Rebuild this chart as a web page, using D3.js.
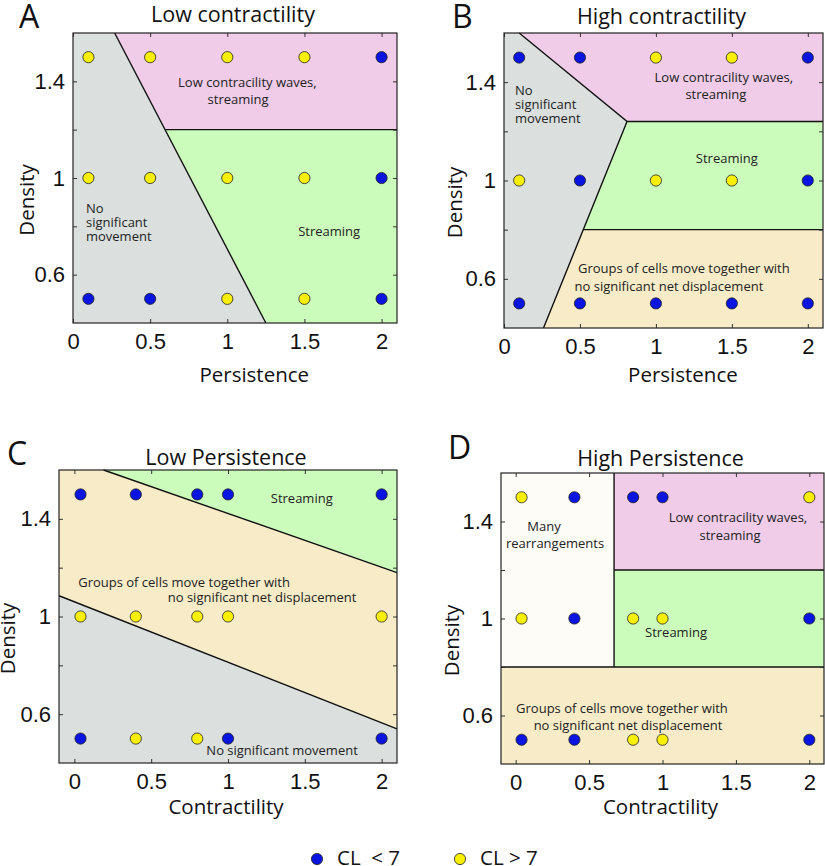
<!DOCTYPE html>
<meta charset="utf-8">
<style>
body { margin: 0; background: #fff; }
svg { display: block; }
.region-label { font-family: "Open Sans", sans-serif; font-size: 13px; fill: #222; }
.title { font-family: "Open Sans", sans-serif; font-size: 21.5px; fill: #111; }
.letter { font-family: "Open Sans", sans-serif; font-size: 32px; fill: #111; }
.axis-label { font-family: "Open Sans", sans-serif; font-size: 20.5px; fill: #111; }
.tick text { font-family: "Liberation Sans", Arial, sans-serif; font-size: 22px; fill: #111; }
.tick line { stroke: #333; }
</style>
<body>
<div id="chart"></div>
<script src="https://cdn.jsdelivr.net/npm/d3@7/dist/d3.min.js"></script>
<script>

// ---- data ----
var densityLevels = [1.5, 1.0, 0.5];
var persistenceLevels = [0.1, 0.5, 1, 1.5, 2];
var contractilityLevels = [0.04, 0.4, 0.8, 1, 2];

// "lo" = CL < 7 (blue), "hi" = CL > 7 (yellow); rows follow densityLevels
var clA = [["hi","hi","hi","hi","lo"],
           ["hi","hi","hi","hi","lo"],
           ["lo","lo","hi","hi","lo"]];
var clB = [["lo","lo","hi","hi","lo"],
           ["hi","lo","hi","hi","lo"],
           ["lo","lo","lo","lo","lo"]];
var clC = [["lo","lo","lo","lo","lo"],
           ["hi","hi","hi","hi","hi"],
           ["lo","hi","hi","lo","lo"]];
var clD = [["hi","lo","lo","lo","hi"],
           ["hi","lo","hi","hi","lo"],
           ["lo","lo","hi","hi","lo"]];

var xTicks = [0, 0.5, 1, 1.5, 2];
var yTicks = [0.6, 0.8, 1, 1.2, 1.4];
var yLabelled = [0.6, 1, 1.4];

// phase regions (polygons in data units) and boundary lines
var regionsA = [
  {phase: "none",   pts: [[0,1.6],[0.27,1.6],[1.25,0.4],[0,0.4]]},
  {phase: "waves",  pts: [[0.27,1.6],[2.1,1.6],[2.1,1.2],[0.6,1.2]]},
  {phase: "stream", pts: [[0.6,1.2],[2.1,1.2],[2.1,0.4],[1.25,0.4]]}
];
var linesA = [[[0.27,1.6],[1.25,0.4]], [[0.6,1.2],[2.1,1.2]]];

var regionsB = [
  {phase: "none",   pts: [[0,1.6],[0.1,1.6],[0.81,1.24],[0.26,0.4],[0,0.4]]},
  {phase: "waves",  pts: [[0.1,1.6],[2.1,1.6],[2.1,1.24],[0.81,1.24]]},
  {phase: "stream", pts: [[0.81,1.24],[2.1,1.24],[2.1,0.8],[0.52,0.8]]},
  {phase: "groups", pts: [[0.52,0.8],[2.1,0.8],[2.1,0.4],[0.26,0.4]]}
];
var linesB = [[[0.1,1.6],[0.81,1.24],[0.26,0.4]], [[0.81,1.24],[2.1,1.24]], [[0.52,0.8],[2.1,0.8]]];

var regionsC = [
  {phase: "stream", pts: [[0.19,1.6],[2.1,1.6],[2.1,1.18]]},
  {phase: "groups", pts: [[-0.1,1.6],[0.19,1.6],[2.1,1.18],[2.1,0.54],[-0.1,1.085]]},
  {phase: "none",   pts: [[-0.1,1.085],[2.1,0.54],[2.1,0.4],[-0.1,0.4]]}
];
var linesC = [[[0.19,1.6],[2.1,1.18]], [[-0.1,1.085],[2.1,0.54]]];

var regionsD = [
  {phase: "rearr",  pts: [[-0.1,1.6],[0.67,1.6],[0.67,0.8],[-0.1,0.8]]},
  {phase: "waves",  pts: [[0.67,1.6],[2.1,1.6],[2.1,1.2],[0.67,1.2]]},
  {phase: "stream", pts: [[0.67,1.2],[2.1,1.2],[2.1,0.8],[0.67,0.8]]},
  {phase: "groups", pts: [[-0.1,0.8],[2.1,0.8],[2.1,0.4],[-0.1,0.4]]}
];
var linesD = [[[0.67,1.6],[0.67,0.8]], [[0.67,1.2],[2.1,1.2]], [[-0.1,0.8],[2.1,0.8]]];

// ---- styles ----
var phaseColor = {
  none: "#dbe0df", waves: "#f0cce8", stream: "#ccfcbc",
  groups: "#f8ecc8", rearr: "#fefcf6"
};
var clColor = {lo: "#0a14e0", hi: "#f8f000"};

// ---- layout ----
var panels = [
  {letter: "A", title: "Low contractility", xlab: "Persistence",
   box: [73, 33, 397, 323], xDomain: [0, 2.1], xs: persistenceLevels, cl: clA,
   regions: regionsA, lines: linesA, letterPos: [19, 28], titleY: 22, xlabY: 382, ylabX: 27,
   labels: [
     {x: 1.13, y: 1.397, a: "middle", t: "Low contracility waves,"},
     {x: 1.07, y: 1.327, a: "middle", t: "streaming"},
     {x: 0.084, y: 0.876, a: "start", t: "No"},
     {x: 0.084, y: 0.818, a: "start", t: "significant"},
     {x: 0.084, y: 0.76, a: "start", t: "movement"},
     {x: 1.66, y: 0.78, a: "middle", t: "Streaming"}
   ]},
  {letter: "B", title: "High contractility", xlab: "Persistence",
   box: [504, 33, 823, 328], xDomain: [0, 2.1], xs: persistenceLevels, cl: clB,
   regions: regionsB, lines: linesB, letterPos: [452, 28], titleY: 24, xlabY: 382, ylabX: 455,
   labels: [
     {x: 0.072, y: 1.368, a: "start", t: "No"},
     {x: 0.072, y: 1.311, a: "start", t: "significant"},
     {x: 0.072, y: 1.254, a: "start", t: "movement"},
     {x: 1.447, y: 1.421, a: "middle", t: "Low contracility waves,"},
     {x: 1.395, y: 1.352, a: "middle", t: "streaming"},
     {x: 1.467, y: 1.088, a: "middle", t: "Streaming"},
     {x: 1.184, y: 0.641, a: "middle", t: "Groups of cells move together with"},
     {x: 1.086, y: 0.567, a: "middle", t: "no significant net displacement"}
   ]},
  {letter: "C", title: "Low Persistence", xlab: "Contractility",
   box: [59, 470, 397, 763], xDomain: [-0.1, 2.1], xs: contractilityLevels, cl: clC,
   regions: regionsC, lines: linesC, letterPos: [7, 465], titleY: 465, xlabY: 814, ylabX: 8,
   labels: [
     {x: 1.48, y: 1.485, a: "middle", t: "Streaming"},
     {x: 0.714, y: 1.141, a: "middle", t: "Groups of cells move together with"},
     {x: 1.222, y: 1.08, a: "middle", t: "no significant net displacement"},
     {x: 1.352, y: 0.452, a: "middle", t: "No significant movement"}
   ]},
  {letter: "D", title: "High Persistence", xlab: "Contractility",
   box: [501, 473, 824, 764], xDomain: [-0.1, 2.1], xs: contractilityLevels, cl: clD,
   regions: regionsD, lines: linesD, letterPos: [448, 459], titleY: 466, xlabY: 814, ylabX: 452,
   labels: [
     {x: 0.193, y: 1.381, a: "middle", t: "Many"},
     {x: 0.268, y: 1.31, a: "middle", t: "rearrangements"},
     {x: 1.514, y: 1.418, a: "middle", t: "Low contracility waves,"},
     {x: 1.46, y: 1.343, a: "middle", t: "streaming"},
     {x: 1.092, y: 0.942, a: "middle", t: "Streaming"},
     {x: 0.724, y: 0.628, a: "middle", t: "Groups of cells move together with"},
     {x: 0.765, y: 0.557, a: "middle", t: "no significant net displacement"}
   ]}
];

var width = 825, height = 866;

var svg = d3.select("#chart")
  .append("svg")
    .attr("width", width)
    .attr("height", height);

panels.forEach(function(p) {
  var x0 = p.box[0], y0 = p.box[1], x1 = p.box[2], y1 = p.box[3];

  var x = d3.scaleLinear().domain(p.xDomain).range([x0, x1]);
  var y = d3.scaleLinear().domain([0.4, 1.6]).range([y1, y0]);

  var g = svg.append("g").attr("class", "panel");

  var line = d3.line()
    .x(function(d) { return x(d[0]); })
    .y(function(d) { return y(d[1]); });

  // regions
  g.selectAll("path.region")
    .data(p.regions)
    .enter().append("path")
      .attr("class", "region")
      .attr("d", function(d) { return line(d.pts) + "Z"; })
      .attr("fill", function(d) { return phaseColor[d.phase]; });

  // boundaries
  g.selectAll("path.bound")
    .data(p.lines)
    .enter().append("path")
      .attr("class", "bound")
      .attr("d", line)
      .attr("fill", "none")
      .attr("stroke", "#111")
      .attr("stroke-width", 1.4);

  // axes, ticks pointing inward on all four sides
  var fmtY = function(v) { return yLabelled.indexOf(v) >= 0 ? d3.format("~g")(v) : ""; };

  g.append("g")
    .attr("transform", "translate(0," + y1 + ")")
    .call(d3.axisBottom(x).tickValues(xTicks).tickSize(-4).tickPadding(10).tickFormat(d3.format("~g")));
  g.append("g")
    .attr("transform", "translate(0," + y0 + ")")
    .call(d3.axisTop(x).tickValues(xTicks).tickSize(-4).tickFormat(""));
  g.append("g")
    .attr("transform", "translate(" + x0 + ",0)")
    .call(d3.axisLeft(y).tickValues(yTicks).tickSize(-4).tickPadding(8).tickFormat(fmtY));
  g.append("g")
    .attr("transform", "translate(" + x1 + ",0)")
    .call(d3.axisRight(y).tickValues(yTicks).tickSize(-4).tickFormat(""));

  g.selectAll(".domain").remove();
  g.selectAll(".tick text").attr("font-family", null).attr("font-size", null);

  // frame
  g.append("rect")
    .attr("x", x0).attr("y", y0)
    .attr("width", x1 - x0).attr("height", y1 - y0)
    .attr("fill", "none")
    .attr("stroke", "#222")
    .attr("stroke-width", 1.2);

  // region labels
  g.selectAll("text.region-label")
    .data(p.labels)
    .enter().append("text")
      .attr("class", "region-label")
      .attr("x", function(d) { return x(d.x); })
      .attr("y", function(d) { return y(d.y); })
      .attr("dy", "0.35em")
      .attr("text-anchor", function(d) { return d.a; })
      .text(function(d) { return d.t; });

  // simulation points
  var pts = [];
  densityLevels.forEach(function(dv, i) {
    p.xs.forEach(function(xv, j) {
      pts.push({x: xv, y: dv, c: p.cl[i][j]});
    });
  });

  g.selectAll("circle.pt")
    .data(pts)
    .enter().append("circle")
      .attr("class", "pt")
      .attr("cx", function(d) { return x(d.x); })
      .attr("cy", function(d) { return y(d.y); })
      .attr("r", 5.6)
      .attr("fill", function(d) { return clColor[d.c]; })
      .attr("stroke", "#222")
      .attr("stroke-width", 0.8);

  // titles and labels
  g.append("text")
    .attr("class", "title")
    .attr("x", (x0 + x1) / 2 - 2)
    .attr("y", p.titleY)
    .attr("text-anchor", "middle")
    .text(p.title);

  g.append("text")
    .attr("class", "letter")
    .attr("x", p.letterPos[0])
    .attr("y", p.letterPos[1])
    .text(p.letter);

  g.append("text")
    .attr("class", "axis-label")
    .attr("x", x(1.0) + (p.xlab === "Persistence" ? 27 : -2))
    .attr("y", p.xlabY)
    .attr("text-anchor", "middle")
    .text(p.xlab);

  g.append("text")
    .attr("class", "axis-label")
    .attr("transform", "translate(" + p.ylabX + "," + ((y0 + y1) / 2 + 22) + ") rotate(-90)")
    .attr("dy", "0.35em")
    .attr("text-anchor", "middle")
    .text("Density");
});

// legend
var legendItems = [
  {c: "lo", t: "CL  < 7", x: 317},
  {c: "hi", t: "CL > 7", x: 460}
];
var legend = svg.append("g").attr("class", "legend");
legend.selectAll("circle")
  .data(legendItems)
  .enter().append("circle")
    .attr("cx", function(d) { return d.x; })
    .attr("cy", 859)
    .attr("r", 5.6)
    .attr("fill", function(d) { return clColor[d.c]; })
    .attr("stroke", "#222")
    .attr("stroke-width", 0.8);
legend.selectAll("text")
  .data(legendItems)
  .enter().append("text")
    .attr("class", "axis-label")
    .attr("x", function(d) { return d.x + 20; })
    .attr("y", 865)
    .style("white-space", "pre")
    .text(function(d) { return d.t; });

</script>
</body>
